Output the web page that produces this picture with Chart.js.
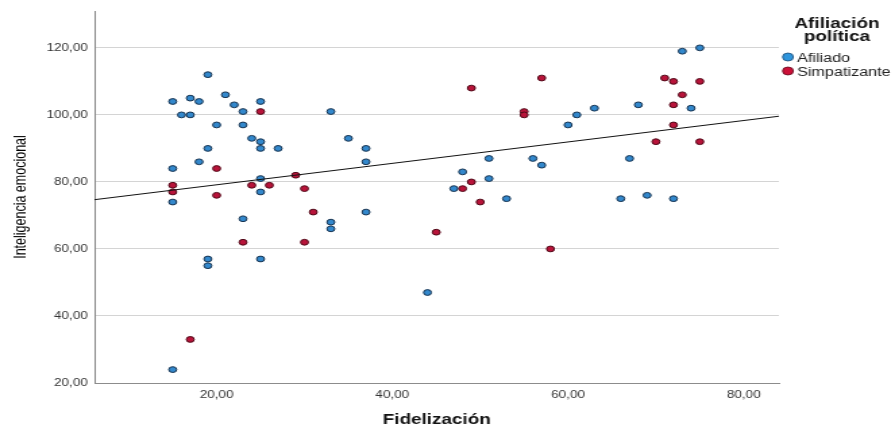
<!DOCTYPE html>
<html>
<head>
<meta charset="utf-8">
<script src="https://cdn.jsdelivr.net/npm/chart.js@4.4.1/dist/chart.umd.min.js"></script>
<style>
  body { margin: 0; background: #fff; }
  #myChart { width: 895px; height: 430px; }
</style>
</head>
<body>
<!-- canvas is drawn narrower and stretched sideways, like the exported picture -->
<canvas id="myChart" width="663" height="430" style="width:895px;height:430px"></canvas>
<script>
// Fidelización (x) / Inteligencia emocional (y)
const afiliadoX = [19, 15, 17, 18, 21, 22, 25, 23, 16, 17, 20, 23, 24, 25, 25, 19, 27, 18, 15, 25, 25, 15, 23, 19, 19, 25, 15,
                   33, 35, 37, 37, 51, 56, 57, 48, 51, 47, 53, 33, 33, 37, 44,
                   75, 73, 63, 68, 74, 61, 60, 67, 66, 69, 72];
const afiliadoY = [112, 104, 105, 104, 106, 103, 104, 101, 100, 100, 97, 97, 93, 92, 90, 90, 90, 86, 84, 81, 77, 74, 69, 57, 55, 57, 24,
                   101, 93, 90, 86, 87, 87, 85, 83, 81, 78, 75, 68, 66, 71, 47,
                   120, 119, 102, 103, 102, 100, 97, 87, 75, 76, 75];

const simpatizanteX = [25, 20, 29, 15, 24, 26, 15, 30, 20, 31, 23, 30, 17,
                       49, 57, 55, 55, 49, 48, 50, 45, 58,
                       71, 72, 75, 73, 72, 72, 70, 75];
const simpatizanteY = [101, 84, 82, 79, 79, 79, 77, 78, 76, 71, 62, 62, 33,
                       108, 111, 101, 100, 80, 78, 74, 65, 60,
                       111, 110, 110, 106, 103, 97, 92, 92];

// fit line end points as drawn
const fitX = [6.1, 84];
const fitY = [74.7, 99.6];

const xTicks = [20, 40, 60, 80];
const yTicks = [20, 40, 60, 80, 100, 120];

const groups = ['Afiliado', 'Simpatizante'];
const legendTitle = ['Afiliación', 'política'];

const FONT = "'Liberation Sans', Arial, sans-serif";

function toPoints(xs, ys) {
    return xs.map((x, i) => ({ x: x, y: ys[i] }));
}

function fmt(v) {
    return Number(v).toFixed(2).replace('.', ',');
}

// legend at the right, SPSS style
const legendPlugin = {
    id: 'spssLegend',
    afterDraw(chart) {
        const ctx = chart.ctx;
        ctx.save();
        ctx.fillStyle = '#111';
        ctx.font = 'bold 14px ' + FONT;
        ctx.textAlign = 'center';
        ctx.textBaseline = 'alphabetic';
        ctx.fillText(legendTitle[0], 620, 28);
        ctx.fillText(legendTitle[1], 620, 41);

        const fills = ['#2f95dc', '#cc1038'];
        const borders = ['#1c4a75', '#5e0a1d'];
        const ys = [57, 71];
        ctx.font = '12px ' + FONT;
        ctx.textAlign = 'left';
        groups.forEach((g, i) => {
            ctx.beginPath();
            ctx.arc(583.7, ys[i], 4, 0, Math.PI * 2);
            ctx.fillStyle = fills[i];
            ctx.fill();
            ctx.lineWidth = 0.8;
            ctx.strokeStyle = borders[i];
            ctx.stroke();
            ctx.fillStyle = '#222';
            ctx.fillText(g, 590.4, ys[i] + 4.5);
        });
        ctx.restore();
    }
};

const config = {
    type: 'scatter',
    data: {
        datasets: [
            {
                label: groups[0],
                data: toPoints(afiliadoX, afiliadoY),
                backgroundColor: '#3388cc',
                borderColor: '#16324f',
                borderWidth: 1,
                pointRadius: 2.9,
                pointHoverRadius: 2.9,
                order: 2
            },
            {
                label: groups[1],
                data: toPoints(simpatizanteX, simpatizanteY),
                backgroundColor: '#b8143a',
                borderColor: '#4f0817',
                borderWidth: 1,
                pointRadius: 2.9,
                pointHoverRadius: 2.9,
                order: 2
            },
            {
                type: 'line',
                label: 'Ajuste',
                data: toPoints(fitX, fitY),
                borderColor: '#111',
                borderWidth: 1,
                pointRadius: 0,
                fill: false,
                order: 1
            }
        ]
    },
    options: {
        responsive: false,
        animation: false,
        devicePixelRatio: 1,
        layout: { padding: { left: 0, right: 86, top: 10, bottom: 0 } },
        plugins: {
            legend: { display: false },
            tooltip: { enabled: false }
        },
        scales: {
            x: {
                type: 'linear',
                min: 6.1,
                max: 84,
                afterBuildTicks: scale => { scale.ticks = xTicks.map(v => ({ value: v })); },
                afterFit: scale => { scale.height = 47; },
                grid: { color: 'rgba(0,0,0,0)', drawTicks: false },
                border: { display: true, color: '#8c8c8c', width: 1 },
                ticks: {
                    padding: 6,
                    color: '#333',
                    font: { family: FONT, size: 10 },
                    callback: v => fmt(v),
                    maxRotation: 0
                },
                title: {
                    display: true,
                    text: 'Fidelización',
                    color: '#111',
                    font: { family: FONT, size: 14, weight: 'bold' },
                    padding: { top: 0, bottom: 1.5 }
                }
            },
            y: {
                type: 'linear',
                min: 20,
                max: 131,
                afterBuildTicks: scale => { scale.ticks = yTicks.map(v => ({ value: v })); },
                afterFit: scale => { scale.width = 70; },
                grid: {
                    drawTicks: false,
                    color: c => (c.tick && c.tick.value === 20) ? 'rgba(0,0,0,0)' : '#d4d4d4',
                    lineWidth: 1
                },
                border: { display: true, color: '#8c8c8c', width: 1 },
                ticks: {
                    padding: 5,
                    color: '#333',
                    font: { family: FONT, size: 10 },
                    callback: v => fmt(v)
                },
                title: {
                    display: true,
                    text: 'Inteligencia emocional',
                    color: '#000',
                    font: { family: FONT, size: 12.5 },
                    padding: { top: 8, bottom: 0 }
                }
            }
        }
    },
    plugins: [legendPlugin]
};

document.addEventListener('DOMContentLoaded', () => {
    const ctx = document.getElementById('myChart').getContext('2d');
    window.myChart = new Chart(ctx, config);
});
</script>
</body>
</html>
